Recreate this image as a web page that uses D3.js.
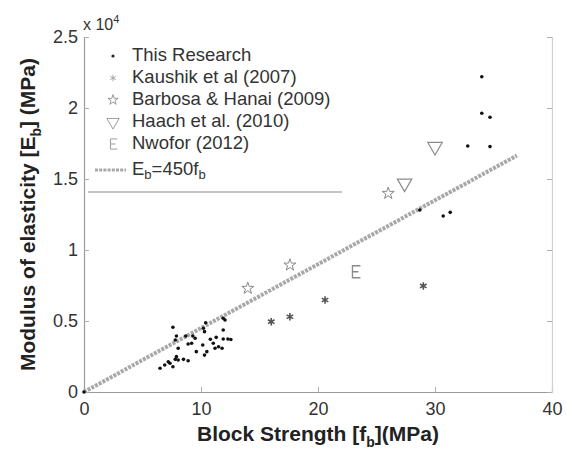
<!DOCTYPE html>
<html>
<head>
<meta charset="utf-8">
<script src="https://cdn.jsdelivr.net/npm/d3@7"></script>
<style>
  body { margin: 0; background: #fff; }
  svg { font-family: "Liberation Sans", Arial, sans-serif; }
</style>
</head>
<body>
<div id="chart"></div>
<script>
// block strength (MPa) and modulus (MPa) per source
const thisResearch = [
  [0, 0], [7.6, 4560], [10.4, 4880], [12.05, 5070], [11.9, 5190], [10.2, 4490],
  [7.9, 3940], [8.7, 3940], [9.3, 3940], [10.3, 4250], [11.9, 4370],
  [7.8, 3660], [9.5, 3780], [10.8, 3710], [11.3, 3850], [11.9, 3730],
  [12.3, 3730], [12.55, 3700], [9.2, 3430], [8.9, 3380], [10.15, 3310],
  [11.05, 3430], [11.5, 3190], [11.2, 3080], [11.8, 3080], [8.05, 3080],
  [9.6, 2840], [10.5, 2840], [10.3, 2600], [7.9, 2490], [8.05, 2250],
  [8.5, 2300], [8.9, 2200], [7.8, 2300], [7.2, 2130], [6.9, 1900],
  [7.35, 2020], [6.5, 1670], [7.6, 1780],
  [34.0, 22200], [34.0, 19630], [34.7, 19350], [32.8, 17320], [34.7, 17280],
  [28.7, 12820], [30.7, 12390], [31.3, 12650]
];
const kaushik = [[16.0, 4950], [17.6, 5300], [20.6, 6480], [29.0, 7470]];
const barbosa = [[14.0, 7300], [17.6, 8940], [26.0, 13990]];
const haach = [[27.4, 14700], [30.0, 17280]];
const nwofor = [[23.2, 8470]];
const fitSlope = 450;
const fitRange = [0, 37];

const xTicks = [0, 10, 20, 30, 40];
const yTicks = [0, 5000, 10000, 15000, 20000, 25000];
const legendLabels = ["This Research", "Kaushik et al (2007)", "Barbosa & Hanai (2009)",
  "Haach et al. (2010)", "Nwofor (2012)"];

const W = 567, H = 452;
const mLeft = 84, mRight = 552, mTop = 37, mBottom = 392;
const grey = "#8a8a8a";

const svg = d3.select("#chart").append("svg")
  .attr("width", W).attr("height", H);

const x = d3.scaleLinear().domain([0, 40]).range([mLeft, mRight]);
const y = d3.scaleLinear().domain([0, 25000]).range([mBottom, mTop]);

// axes, ticks pointing inward like matlab
const xAxis = svg.append("g")
  .attr("transform", `translate(0,${mBottom})`)
  .call(d3.axisBottom(x).tickValues(xTicks).tickSize(-5).tickPadding(10));
const yAxis = svg.append("g")
  .attr("transform", `translate(${mLeft},0)`)
  .call(d3.axisLeft(y).tickValues(yTicks).tickSize(-5).tickPadding(6)
    .tickFormat(d => d / 10000));
const yRight = svg.append("g")
  .attr("transform", `translate(${mRight},0)`)
  .call(d3.axisRight(y).tickValues(yTicks).tickSize(-5).tickFormat(""));

[xAxis, yAxis, yRight].forEach(g => {
  g.select(".domain").attr("stroke", "#9a9a9a").attr("stroke-width", 1.2);
  g.selectAll(".tick line").attr("stroke", "#b0b0b0");
  g.selectAll(".tick text").attr("fill", "#333").style("font-size", "18px");
});
yRight.select(".domain").attr("stroke", "#d0d0d0");

// exponent label
const expo = svg.append("text").attr("x", 83).attr("y", 30)
  .attr("fill", "#333").style("font-size", "16px");
expo.append("tspan").text("x 10");
expo.append("tspan").attr("dy", -7).style("font-size", "11px").text("4");

// fit line
const line = d3.line().x(d => x(d)).y(d => y(d * fitSlope));
svg.append("path")
  .attr("d", line(fitRange))
  .attr("fill", "none")
  .attr("stroke", "#a8a8a8")
  .attr("stroke-width", 4)
  .attr("stroke-dasharray", "3,1.2");

// marker shapes
const star = d3.symbol().type(d3.symbolStar).size(45)();
const tri = d3.symbol().type(d3.symbolTriangle).size(90)();
const ast = d3.symbol().type(d3.symbolAsterisk).size(40)();
const ebox = "M5,-6H-3V6H5M-3,0H3";

function drawPts(data, shape, opts) {
  svg.append("g").selectAll("path")
    .data(data).enter().append("path")
    .attr("d", shape)
    .attr("transform", d => `translate(${x(d[0])},${y(d[1])})${opts.rot || ""}`)
    .attr("fill", opts.fill || "none")
    .attr("stroke", opts.stroke)
    .attr("stroke-width", opts.sw || 1);
}

drawPts(kaushik, ast, { stroke: "#555", sw: 1.6 });
drawPts(barbosa, star, { stroke: grey, sw: 1 });
drawPts(haach, tri, { stroke: grey, sw: 1.2, rot: " rotate(180)" });
drawPts(nwofor, ebox, { stroke: grey, sw: 1.3 });

svg.append("g").selectAll("circle")
  .data(thisResearch).enter().append("circle")
  .attr("cx", d => x(d[0]))
  .attr("cy", d => y(d[1]))
  .attr("r", 1.8)
  .attr("fill", "#111");

// legend
const legY = [56, 78, 100, 122, 144, 170];
const legShapes = [null, ast, star, tri, ebox];
const leg = svg.append("g");
legendLabels.forEach((lab, i) => {
  if (i === 0) {
    leg.append("circle").attr("cx", 113).attr("cy", legY[i]).attr("r", 1.6).attr("fill", "#222");
  } else {
    leg.append("path").attr("d", legShapes[i])
      .attr("transform", `translate(113,${legY[i]})${i === 3 ? " rotate(180) scale(0.85)" : " scale(0.85)"}`)
      .attr("fill", "none").attr("stroke", i === 1 ? "#999" : grey).attr("stroke-width", 1);
  }
  leg.append("text").attr("x", 132).attr("y", legY[i])
    .attr("dominant-baseline", "middle")
    .attr("fill", "#333").style("font-size", "18.5px").text(lab);
});
leg.append("line").attr("x1", 95).attr("x2", 126)
  .attr("y1", legY[5]).attr("y2", legY[5])
  .attr("stroke", "#a8a8a8").attr("stroke-width", 3).attr("stroke-dasharray", "3,1.2");
const eb = leg.append("text").attr("x", 132).attr("y", legY[5])
  .attr("dominant-baseline", "middle").attr("fill", "#333").style("font-size", "18.5px");
eb.append("tspan").text("E");
eb.append("tspan").attr("dy", 6).style("font-size", "13px").text("b");
eb.append("tspan").attr("dy", -6).text("=450f");
eb.append("tspan").attr("dy", 6).style("font-size", "13px").text("b");
leg.append("line").attr("x1", 88).attr("x2", 342).attr("y1", 192).attr("y2", 192)
  .attr("stroke", "#888").attr("stroke-width", 1.2);

// axis titles
const xt = svg.append("text").attr("x", (mLeft + mRight) / 2).attr("y", 441)
  .attr("text-anchor", "middle").attr("font-weight", "bold")
  .attr("fill", "#222").style("font-size", "21px");
xt.append("tspan").text("Block Strength [f");
xt.append("tspan").attr("dy", 6).style("font-size", "14px").text("b");
xt.append("tspan").attr("dy", -6).text("](MPa)");

const yt = svg.append("text")
  .attr("transform", `translate(35,${(mTop + mBottom) / 2}) rotate(-90)`)
  .attr("text-anchor", "middle").attr("font-weight", "bold")
  .attr("fill", "#222").style("font-size", "21px");
yt.append("tspan").text("Modulus of elasticity [E");
yt.append("tspan").attr("dy", 6).style("font-size", "14px").text("b");
yt.append("tspan").attr("dy", -6).text("] (MPa)");
</script>
</body>
</html>
